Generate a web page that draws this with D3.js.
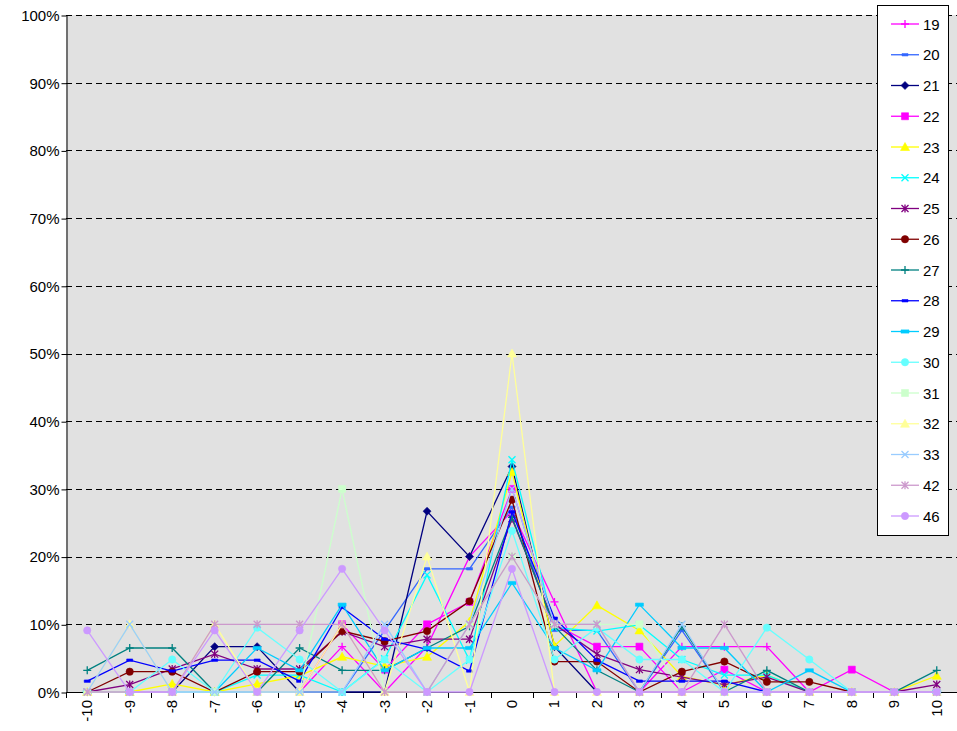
<!DOCTYPE html>
<html>
<head>
<meta charset="utf-8">
<script src="https://cdn.jsdelivr.net/npm/d3@7"></script>
<style>
  body { margin: 0; background: #fff; }
  text { font-family: Arial, "Liberation Sans", sans-serif; }
</style>
</head>
<body>
<div id="chart"></div>
<script>
const categories = ['-10', '-9', '-8', '-7', '-6', '-5', '-4', '-3', '-2', '-1', '0', '1', '2', '3', '4', '5', '6', '7', '8', '9', '10'];
const seriesNames = ['19', '20', '21', '22', '23', '24', '25', '26', '27', '28', '29', '30', '31', '32', '33', '42', '46'];
const yTicks = [0, 10, 20, 30, 40, 50, 60, 70, 80, 90, 100];

// percentages per category, -10 .. 10
const s19 = [0, 0, 0, 0, 0, 0, 6.7, 0, 6.7, 20, 26.7, 13.3, 0, 0, 6.7, 6.7, 6.7, 0, 0, 0, 0];
const s20 = [0, 0, 0, 0, 0, 0, 0, 9.1, 18.2, 18.2, 27.3, 9.1, 9.1, 0, 9.1, 0, 0, 0, 0, 0, 0];
const s21 = [0, 0, 0, 6.7, 6.7, 0, 0, 0, 26.7, 20, 33.3, 6.7, 0, 0, 0, 0, 0, 0, 0, 0, 0];
const s22 = [0, 0, 0, 0, 0, 0, 10, 3.3, 10, 13.3, 30, 10, 6.7, 6.7, 0, 3.3, 0, 0, 3.3, 0, 0];
const s23 = [0, 0, 1.2, 0, 1.2, 2.4, 5.2, 3.8, 5.2, 10.4, 32.5, 6.8, 12.8, 9.1, 2.3, 1.0, 2.5, 0, 0, 0, 2.4];
const s24 = [0, 0, 0, 0, 2.5, 2.5, 0, 4.9, 17.3, 4.7, 34.3, 9.5, 9, 9.9, 4.8, 2.5, 2.5, 0, 0, 0, 0];
const s25 = [0, 1.1, 3.4, 5.6, 3.4, 3.4, 8.9, 6.7, 7.8, 7.8, 25.6, 10, 5.6, 3.3, 2.2, 1.1, 2.2, 0, 0, 0, 1.1];
const s26 = [0, 3.0, 3.0, 0, 3.0, 3.0, 9.0, 7.5, 9.0, 13.4, 28.4, 4.5, 4.5, 0, 3.0, 4.5, 1.5, 1.5, 0, 0, 0];
const s27 = [3.2, 6.5, 6.5, 0, 0, 6.5, 3.2, 3.2, 6.5, 9.7, 25.8, 9.7, 3.2, 0, 9.7, 0, 3.2, 0, 0, 0, 3.2];
const s28 = [1.6, 4.7, 3.1, 4.7, 4.7, 1.6, 12.5, 7.8, 6.3, 3.1, 26.6, 10.9, 4.7, 1.6, 1.6, 1.6, 0, 0, 0, 0, 0];
const s29 = [0, 0, 0, 0, 6.5, 3.2, 12.9, 3.2, 6.5, 6.5, 16.1, 6.5, 3.2, 12.9, 6.5, 6.5, 0, 3.2, 0, 0, 0];
const s30 = [0, 0, 4.8, 0, 9.5, 4.8, 0, 4.8, 0, 4.8, 23.8, 4.8, 9.5, 4.8, 4.8, 0, 9.5, 4.8, 0, 0, 0];
const s31 = [0, 0, 0, 0, 0, 0, 30, 0, 0, 10, 20, 10, 10, 10, 0, 0, 0, 0, 0, 0, 0];
const s32 = [0, 10, 0, 10, 0, 0, 10, 0, 20, 0, 50, 0, 0, 0, 0, 0, 0, 0, 0, 0, 0];
const s33 = [0, 10, 0, 0, 0, 0, 0, 10, 0, 10, 30, 10, 10, 0, 10, 0, 0, 0, 0, 0, 0];
const s42 = [0, 0, 0, 10, 10, 10, 10, 0, 0, 10, 20, 10, 10, 0, 0, 10, 0, 0, 0, 0, 0];
const s46 = [9.1, 0, 0, 9.1, 0, 9.1, 18.2, 9.1, 0, 0, 18.2, 0, 0, 0, 0, 0, 0, 0, 0, 0, 0];
const seriesValues = [s19, s20, s21, s22, s23, s24, s25, s26, s27, s28, s29, s30, s31, s32, s33, s42, s46];

const colors = ['#FF00FF', '#3366FF', '#000080', '#FF00FF', '#FFFF00', '#00FFFF', '#800080', '#800000', '#008080',
  '#0000FF', '#00CCFF', '#66FFFF', '#CCFFCC', '#FFFF99', '#99CCFF', '#CC99CC', '#CC99FF'];
const markers = ['plus', 'smalldash', 'diamond', 'square', 'triangle', 'x', 'star', 'circle', 'plus',
  'smalldash', 'dash', 'circle', 'square', 'triangle', 'x', 'star', 'circle'];

const width = 957;
const height = 731;
const plot = {left: 66, right: 958, top: 15, bottom: 692};

const markerPaths = {
  plus: 'M-4,0H4M0,-4V4',
  x: 'M-3.5,-3.5L3.5,3.5M-3.5,3.5L3.5,-3.5',
  star: 'M-3.5,-3.5L3.5,3.5M-3.5,3.5L3.5,-3.5M0,-4V4',
  smalldash: 'M-3,-1.2H3V1.2H-3Z',
  dash: 'M-4,-1.6H4V1.6H-4Z',
  diamond: 'M0,-4L4,0L0,4L-4,0Z',
  square: 'M-3.5,-3.5H3.5V3.5H-3.5Z',
  triangle: 'M0,-4.5L4.5,3.5H-4.5Z',
  circle: d3.symbol(d3.symbolCircle, 42)()
};
const strokedMarkers = ['plus', 'x', 'star'];

const table = seriesNames.map((name, i) => ({
  name: name,
  color: colors[i],
  marker: markers[i],
  values: categories.map((c, j) => ({cat: c, value: seriesValues[i][j]}))
}));

const svg = d3.select('#chart')
  .append('svg')
    .attr('width', width)
    .attr('height', height)
    .attr('viewBox', [0, 0, width, height]);

const x = d3.scaleBand()
  .domain(categories)
  .range([plot.left, plot.right]);
const y = d3.scaleLinear()
  .domain([0, 100])
  .range([plot.bottom, plot.top]);

// plot area
svg.append('rect')
  .attr('x', plot.left)
  .attr('y', plot.top)
  .attr('width', plot.right - plot.left)
  .attr('height', plot.bottom - plot.top)
  .attr('fill', '#E1E1E1');

// dashed gridlines
svg.append('g')
  .selectAll('line')
  .data(yTicks.filter(d => d > 0))
  .join('line')
    .attr('x1', plot.left)
    .attr('x2', plot.right)
    .attr('y1', d => Math.round(y(d)) + 0.5)
    .attr('y2', d => Math.round(y(d)) + 0.5)
    .attr('stroke', '#000')
    .attr('stroke-dasharray', '6 4');

// y axis
const yAxis = svg.append('g')
  .attr('transform', `translate(${plot.left + 0.5}, 0.5)`)
  .call(d3.axisLeft(y).tickValues(yTicks).tickFormat(d => d + '%').tickSize(5).tickSizeOuter(0));
yAxis.selectAll('text')
  .attr('font-size', 15)
  .attr('font-family', 'Arial, "Liberation Sans", sans-serif')
  .attr('fill', '#000')
  .attr('x', -7);
yAxis.selectAll('line, path').attr('stroke', '#000');

// x axis: ticks between categories
const xAxis = svg.append('g');
xAxis.append('line')
  .attr('x1', plot.left)
  .attr('x2', plot.right)
  .attr('y1', plot.bottom + 0.5)
  .attr('y2', plot.bottom + 0.5)
  .attr('stroke', '#000');
xAxis.selectAll('.tick-mark')
  .data(categories)
  .join('line')
    .attr('class', 'tick-mark')
    .attr('x1', d => Math.round(x(d)) + 0.5)
    .attr('x2', d => Math.round(x(d)) + 0.5)
    .attr('y1', plot.bottom)
    .attr('y2', plot.bottom + 6)
    .attr('stroke', '#000');
xAxis.selectAll('.tick-label')
  .data(categories)
  .join('text')
    .attr('class', 'tick-label')
    .attr('transform', d => `translate(${x(d) + x.bandwidth() / 2 + 5}, 700) rotate(-90)`)
    .attr('text-anchor', 'end')
    .attr('font-size', 15)
    .text(d => d);

// series lines and markers
const line = d3.line()
  .x(d => x(d.cat) + x.bandwidth() / 2)
  .y(d => y(d.value));

const seriesGroups = svg.append('g')
  .selectAll('.series')
  .data(table)
  .join('g')
    .attr('class', 'series');
seriesGroups.append('path')
  .attr('d', d => line(d.values))
  .attr('fill', 'none')
  .attr('stroke', d => d.color)
  .attr('stroke-width', 1.3);
seriesGroups.each(function(s) {
  d3.select(this).selectAll('.marker')
    .data(s.values)
    .join('path')
      .attr('class', 'marker')
      .attr('transform', d => `translate(${x(d.cat) + x.bandwidth() / 2}, ${y(d.value)})`)
      .attr('d', markerPaths[s.marker])
      .attr('fill', strokedMarkers.includes(s.marker) ? 'none' : s.color)
      .attr('stroke', s.color)
      .attr('stroke-width', strokedMarkers.includes(s.marker) ? 1.3 : 0.6);
});

// legend
const legend = svg.append('g');
legend.append('rect')
  .attr('x', 877.5)
  .attr('y', 5.5)
  .attr('width', 71)
  .attr('height', 530)
  .attr('fill', '#fff')
  .attr('stroke', '#000');
const legendItems = legend.selectAll('.legend-item')
  .data(table)
  .join('g')
    .attr('class', 'legend-item')
    .attr('transform', (d, i) => `translate(0, ${24 + i * 30.75})`);
legendItems.append('line')
  .attr('x1', 891)
  .attr('x2', 919)
  .attr('stroke', d => d.color)
  .attr('stroke-width', 1.3);
legendItems.append('path')
  .attr('transform', 'translate(905, 0)')
  .attr('d', d => markerPaths[d.marker])
  .attr('fill', d => strokedMarkers.includes(d.marker) ? 'none' : d.color)
  .attr('stroke', d => d.color)
  .attr('stroke-width', d => strokedMarkers.includes(d.marker) ? 1.3 : 0.6);
legendItems.append('text')
  .attr('x', 923)
  .attr('y', 5.5)
  .attr('font-size', 15)
  .text(d => d.name);
</script>
</body>
</html>
